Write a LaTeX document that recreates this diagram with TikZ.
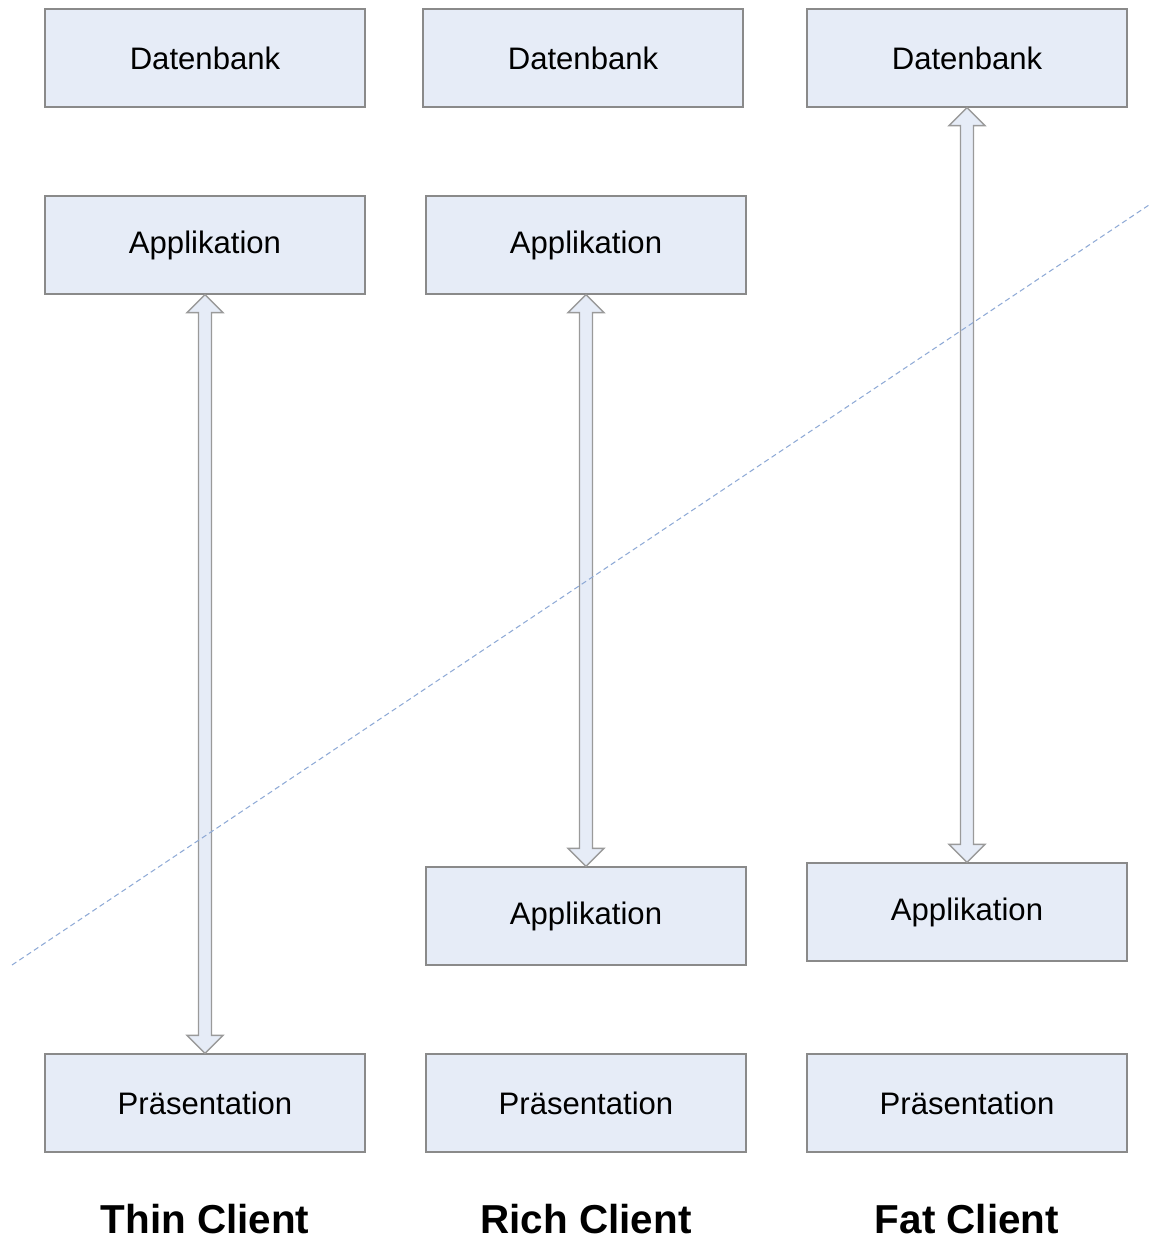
\documentclass[tikz,border=0pt]{standalone}
\usepackage{fontspec}
\setmainfont{Liberation Sans}
\usetikzlibrary{calc}
\definecolor{boxfill}{HTML}{E6ECF7}
\definecolor{boxline}{HTML}{8A8A8A}
\definecolor{arrline}{HTML}{9A9A9A}
\definecolor{dashcol}{HTML}{8FAAD6}
\tikzset{
  layerbox/.style={draw=boxline, fill=boxfill, line width=0.7pt, minimum width=6.4cm, minimum height=1.96cm, inner sep=0pt, font=\fontsize{17.7}{20}\selectfont},
  title/.style={inner sep=0pt, font=\fontsize{23}{26}\selectfont\bfseries},
  arr/.style={draw=arrline, fill=boxfill, line width=0.8pt, line join=miter},
}
\newcommand\dblarr[2]{%
  \path[arr] let \p1=(#1), \p2=(#2) in
    (\x1,\y1) -- (\x1+0.36cm,\y1-0.36cm) -- (\x1+0.13cm,\y1-0.36cm)
    -- (\x2+0.13cm,\y2+0.36cm) -- (\x2+0.36cm,\y2+0.36cm) -- (\x2,\y2)
    -- (\x2-0.36cm,\y2+0.36cm) -- (\x2-0.13cm,\y2+0.36cm)
    -- (\x1-0.13cm,\y1-0.36cm) -- (\x1-0.36cm,\y1-0.36cm) -- cycle;}
\begin{document}
\begin{tikzpicture}[x=0.02cm,y=-0.02cm]
\useasboundingbox (0,0) rectangle (1149,1243);
% column 1
\node[layerbox] (db1) at (205,58) {Datenbank};
\node[layerbox] (ap1) at (205,245) {Applikation};
\node[layerbox] (pr1) at (205,1103) {Präsentation};
% column 2
\node[layerbox] (db2) at (583,58) {Datenbank};
\node[layerbox] (ap2a) at (586,245) {Applikation};
\node[layerbox] (ap2b) at (586,916) {Applikation};
\node[layerbox] (pr2) at (586,1103) {Präsentation};
% column 3
\node[layerbox] (db3) at (967,58) {Datenbank};
\node[layerbox] (ap3) at (967,912) {Applikation};
\node[layerbox] (pr3) at (967,1103) {Präsentation};
% titles
\node[title] (t1) at (205,1219) {Thin Client};
\node[title] (t2) at (586,1219) {Rich Client};
\node[title] (t3) at (967,1219) {Fat Client};
% arrows
\dblarr{ap1.south}{pr1.north}
\dblarr{ap2a.south}{ap2b.north}
\dblarr{db3.south}{ap3.north}
% dashed boundary
\coordinate (d1) at (12,965);
\coordinate (d2) at (1149,205);
\draw[dashcol, dashed, dash pattern=on 3pt off 2pt, line width=0.6pt] (d1) -- (d2);
\end{tikzpicture}
\end{document}
